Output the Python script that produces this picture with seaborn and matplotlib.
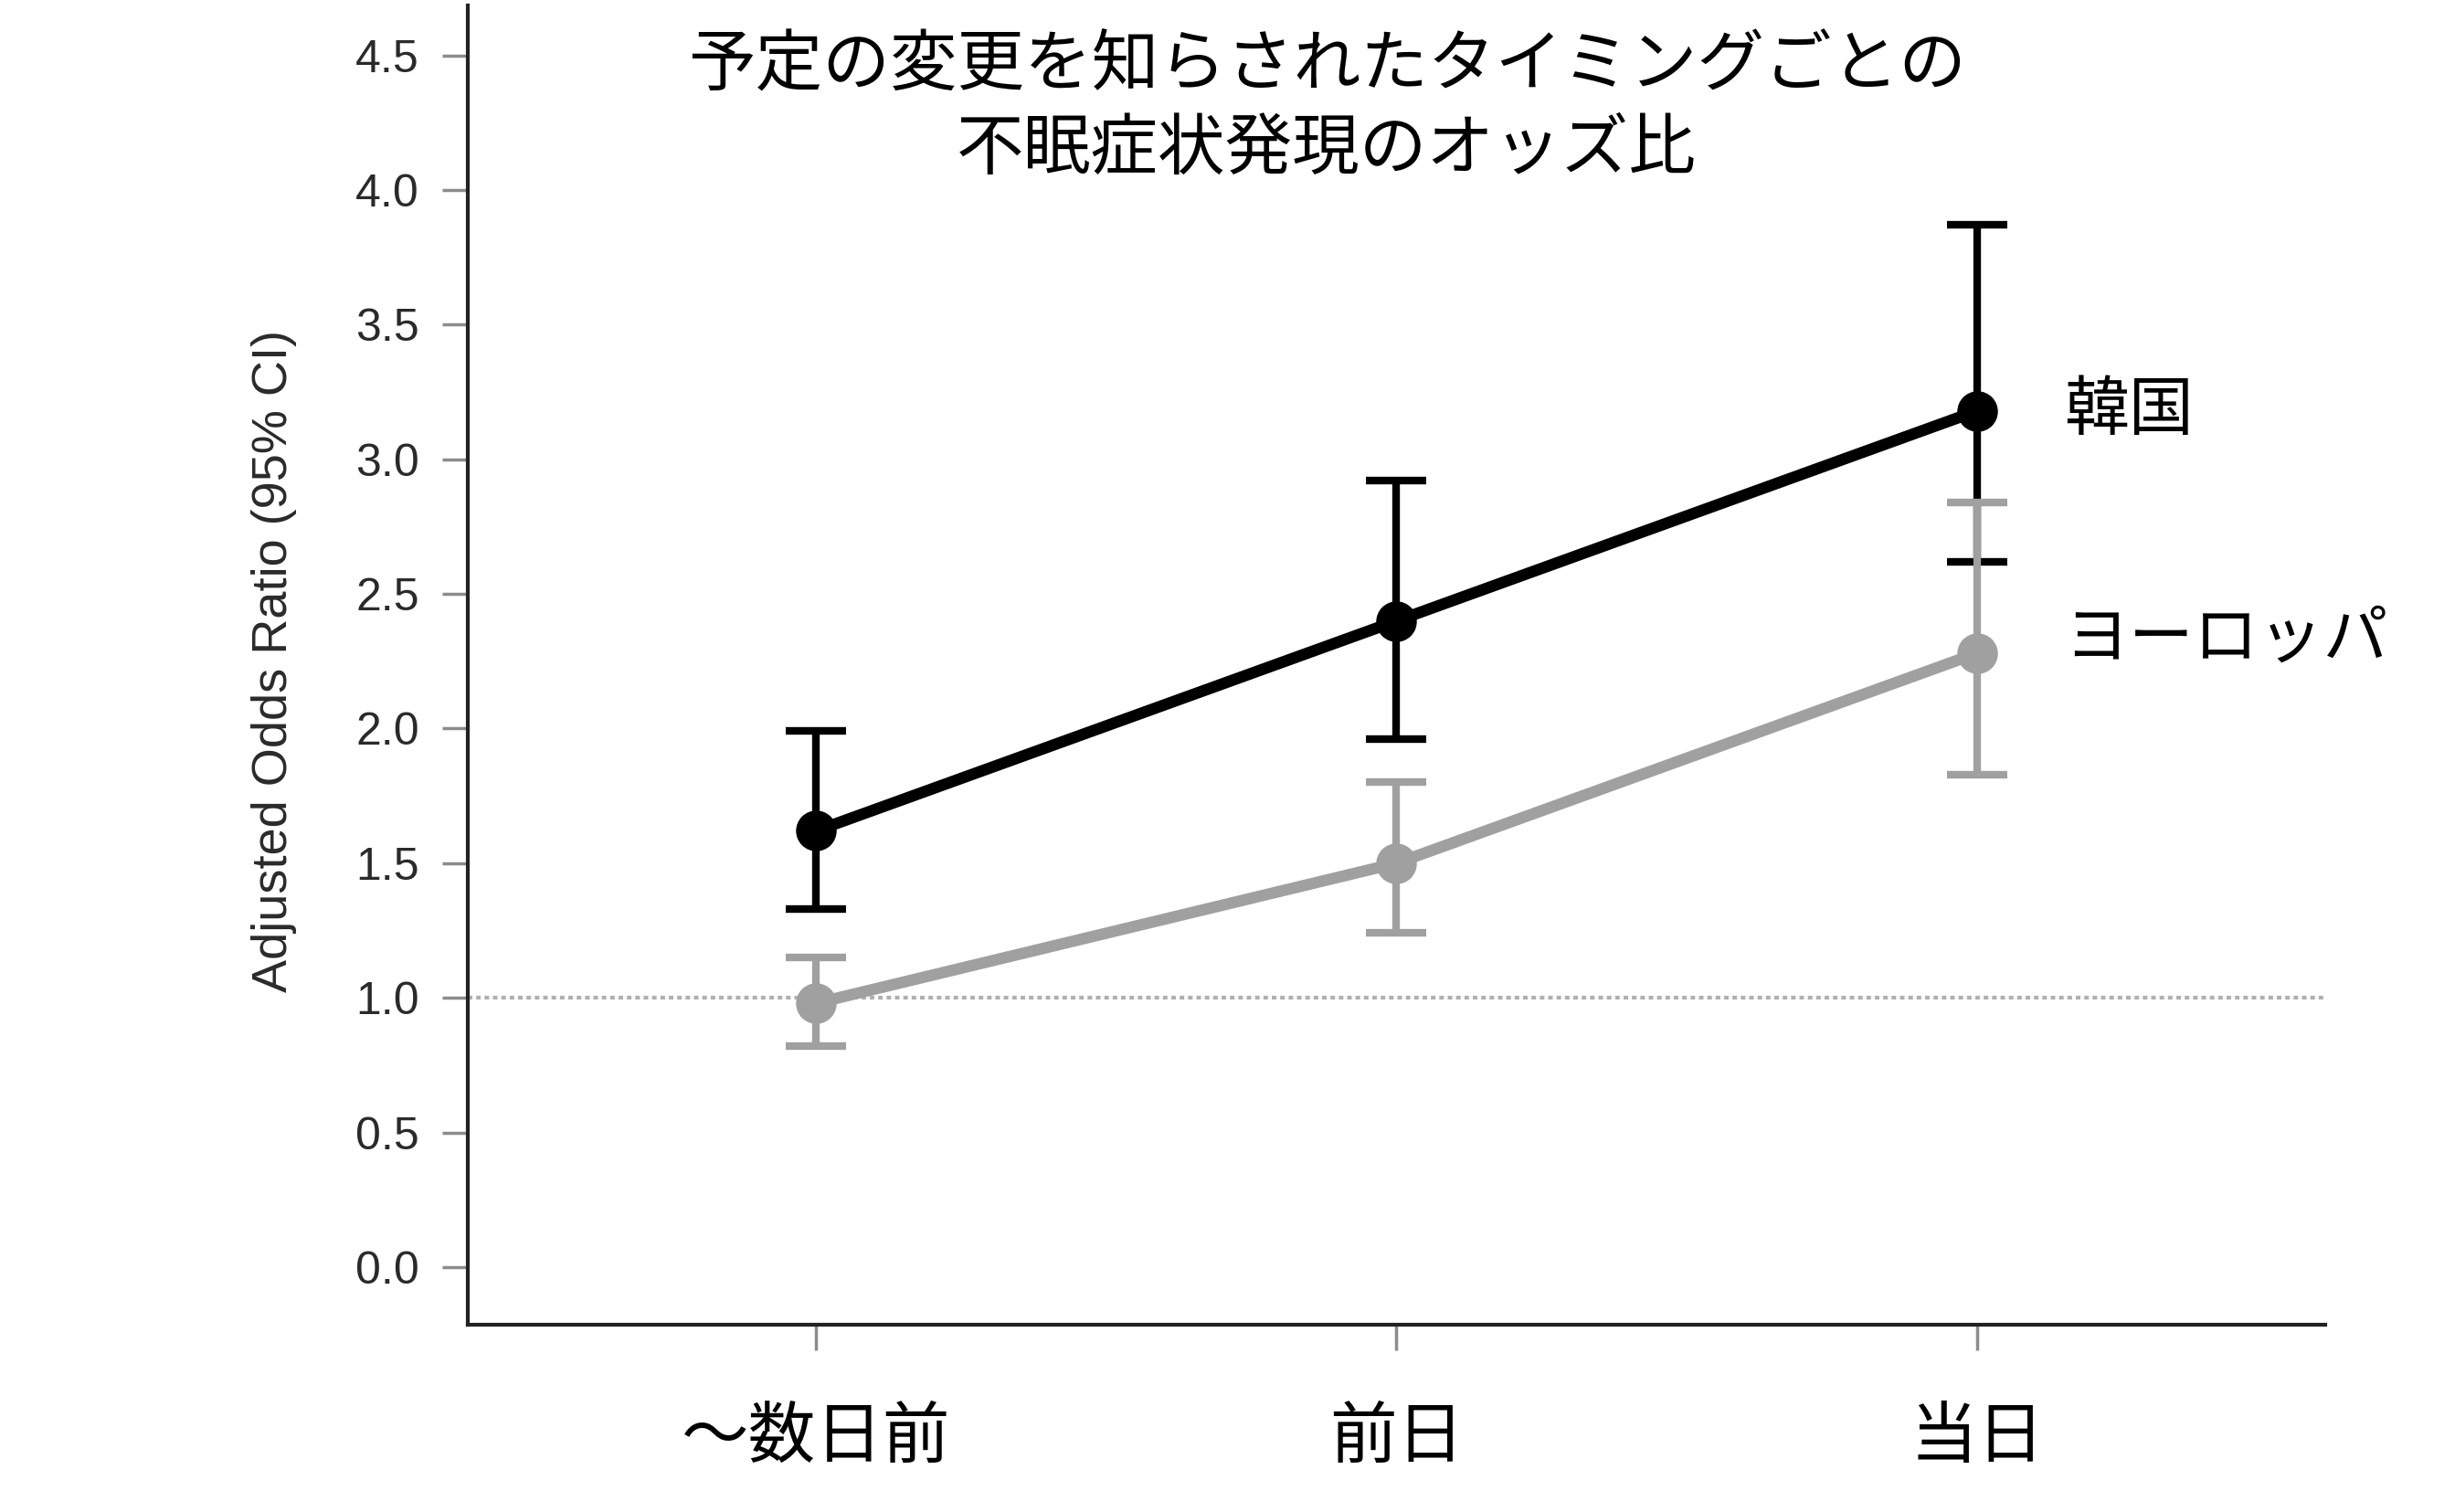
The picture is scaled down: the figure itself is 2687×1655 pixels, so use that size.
import numpy as np
import pandas as pd
import matplotlib
matplotlib.use("Agg")
import matplotlib.pyplot as plt
import seaborn as sns

# ---- data ----
timing = ["〜数日前", "前日", "当日"]
regions = ["韓国", "ヨーロッパ"]
korea_or = [1.62, 2.40, 3.18]
korea_lo = [1.33, 1.96, 2.62]
korea_hi = [1.99, 2.92, 3.87]
europe_or = [0.98, 1.50, 2.28]
europe_lo = [0.82, 1.24, 1.83]
europe_hi = [1.15, 1.80, 2.84]
yticks = [0.0, 0.5, 1.0, 1.5, 2.0, 2.5, 3.0, 3.5, 4.0, 4.5]
title_lines = ["予定の変更を知らされたタイミングごとの", "不眠症状発現のオッズ比"]
ylabel = "Adjusted Odds Ratio (95% CI)"
ref_value = 1.0

colors = {"韓国": "#000000", "ヨーロッパ": "#a0a0a0"}

rows = []
for reg, ors, los, his in [("韓国", korea_or, korea_lo, korea_hi),
                           ("ヨーロッパ", europe_or, europe_lo, europe_hi)]:
    for t, o, l, h in zip(timing, ors, los, his):
        rows.append({"region": reg, "timing": t, "odds": o, "lo": l, "hi": h})
df = pd.DataFrame(rows)

sns.set_theme(style="white")
plt.rcParams["font.family"] = ["Noto Sans CJK JP", "DejaVu Sans"]

fig = plt.figure(figsize=(26.87, 16.55), dpi=100)
ax = fig.add_axes([0.1905, 0.1239, 0.7567, 0.8725])

ax.axhline(ref_value, color="#b0b0b0", lw=3, ls=(0, (1.2, 1.0)), zorder=1)

for reg in regions:
    sub = df[df["region"] == reg]
    xpos = [timing.index(t) for t in sub["timing"]]
    o = sub["odds"].to_numpy()
    yerr = [o - sub["lo"].to_numpy(), sub["hi"].to_numpy() - o]
    ax.errorbar(xpos, o, yerr=yerr, fmt="none", ecolor=colors[reg],
                elinewidth=6, capsize=24, capthick=6)
    sns.pointplot(data=sub, x="timing", y="odds", order=timing,
                  color=colors[reg], errorbar=None, markersize=32,
                  markeredgewidth=0, linewidth=9, ax=ax)

ax.set_xlim(-0.6, 2.6)
ax.set_ylim(-0.214, 4.686)
ax.set_yticks(yticks)
ax.set_yticklabels([f"{v:.1f}" for v in yticks])
ax.set_xlabel("")

for s in ["top", "right"]:
    ax.spines[s].set_visible(False)
for s in ["left", "bottom"]:
    ax.spines[s].set_color("#222222")
    ax.spines[s].set_linewidth(3)

ax.tick_params(axis="both", which="major", direction="out", length=20,
               width=2.5, color="#8c8c8c", bottom=True, left=True)
ax.tick_params(axis="y", labelsize=36, labelcolor="#2a2a2a", pad=18)
ax.tick_params(axis="x", labelsize=53, labelcolor="#000000", pad=42)
for lab in ax.get_yticklabels():
    lab.set_fontfamily("Liberation Sans")

ax.set_ylabel(ylabel, fontsize=39, family="Liberation Sans", color="#2a2a2a")
ax.yaxis.set_label_coords(-0.1043, 0.503)
ax.yaxis.label.set_verticalalignment("center")

ax.text(2.15, korea_or[-1], regions[0], fontsize=51, ha="left", va="center",
        color="#000000")
ax.text(2.15, 2.335, regions[1], fontsize=51, ha="left", va="center",
        color="#000000")

fig.text(0.5404, 1 - 73 / 1655, title_lines[0], fontsize=53, ha="center",
         va="center", color="#000000")
fig.text(0.5404, 1 - 164 / 1655, title_lines[1], fontsize=53, ha="center",
         va="center", color="#000000")

fig.savefig("out.png", dpi=100, facecolor="white")
